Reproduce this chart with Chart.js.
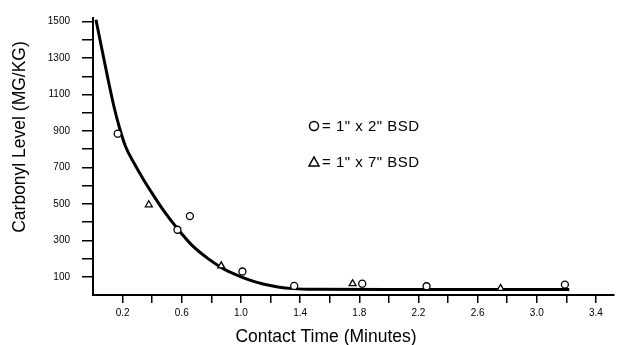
<!DOCTYPE html>
<html>
<head>
<meta charset="utf-8">
<script src="https://cdn.jsdelivr.net/npm/chart.js@4"></script>
<style>
  html, body { margin: 0; padding: 0; background: #fff; }
  #wrap { width: 619px; height: 345px; }
</style>
</head>
<body>
<div id="wrap"><canvas id="chart" width="619" height="345"></canvas></div>
<script>
// fitted curve
const curveX = [0.02, 0.06, 0.10, 0.14, 0.18, 0.22, 0.28, 0.34, 0.41, 0.48, 0.57, 0.67, 0.78, 0.88, 0.97, 1.05, 1.15, 1.25, 1.35, 1.50, 2.00, 3.22];
const curveY = [1510, 1350, 1190, 1040, 915, 815, 720, 635, 545, 460, 365, 272, 198, 145, 110, 84, 60, 44, 35, 31, 30, 30];

// 1" x 2" BSD samples (circles)
const circleX = [0.167, 0.571, 0.655, 1.01, 1.36, 1.82, 2.255, 3.19];
const circleY = [885, 358, 433, 129, 50, 62, 48, 57];

// 1" x 7" BSD samples (triangles)
const triangleX = [0.377, 0.867, 1.755, 2.755];
const triangleY = [495, 160, 62, 36];

const xTicks = [0.2, 0.4, 0.6, 0.8, 1.0, 1.2, 1.4, 1.6, 1.8, 2.0, 2.2, 2.4, 2.6, 2.8, 3.0, 3.2, 3.4];
const xLabels = ['0.2', '0.6', '1.0', '1.4', '1.8', '2.2', '2.6', '3.0', '3.4'];
const yTicks = [100, 200, 300, 400, 500, 600, 700, 800, 900, 1000, 1100, 1200, 1300, 1400, 1500];
const yLabels = ['100', '300', '500', '700', '900', '1100', '1300', '1500'];

const toPoints = (xs, ys) => xs.map((x, i) => ({ x: x, y: ys[i] }));

const fontFamily = '"Liberation Sans", Arial, sans-serif';

// axis titles and the little key, placed like the original figure
const annotatePlugin = {
    id: 'annotate',
    afterDraw(chart) {
        const ctx = chart.ctx;
        ctx.save();
        ctx.strokeStyle = '#000';
        ctx.fillStyle = '#000';
        ctx.lineWidth = 1.5;

        ctx.beginPath();
        ctx.arc(314, 126, 4.5, 0, Math.PI * 2);
        ctx.stroke();

        ctx.beginPath();
        ctx.moveTo(309, 166);
        ctx.lineTo(319, 166);
        ctx.lineTo(314, 157);
        ctx.closePath();
        ctx.stroke();

        ctx.textBaseline = 'middle';
        ctx.font = '15px ' + fontFamily;
        ctx.letterSpacing = '0.5px';
        ctx.fillText('= 1" x 2" BSD', 322, 127);
        ctx.fillText('= 1" x 7" BSD', 322, 163);

        ctx.letterSpacing = '0px';
        ctx.font = '17.5px ' + fontFamily;
        ctx.textAlign = 'center';
        ctx.fillText('Contact Time (Minutes)', 326, 337);

        ctx.translate(20, 137);
        ctx.rotate(-Math.PI / 2);
        ctx.fillText('Carbonyl Level (MG/KG)', 0, 0);
        ctx.restore();
    }
};

const tickFont = { family: fontFamily, size: 10 };

new Chart(document.getElementById('chart'), {
    type: 'scatter',
    data: {
        datasets: [
            {
                label: 'fit',
                data: toPoints(curveX, curveY),
                showLine: true,
                cubicInterpolationMode: 'monotone',
                borderColor: '#000',
                borderWidth: 3,
                pointRadius: 0,
                order: 2
            },
            {
                label: '1" x 2" BSD',
                data: toPoints(circleX, circleY),
                pointStyle: 'circle',
                pointRadius: 3.5,
                backgroundColor: '#fff',
                borderColor: '#000',
                borderWidth: 1.3,
                order: 0
            },
            {
                label: '1" x 7" BSD',
                data: toPoints(triangleX, triangleY),
                pointStyle: 'triangle',
                pointRadius: 4,
                backgroundColor: '#fff',
                borderColor: '#000',
                borderWidth: 1.3,
                order: 1
            }
        ]
    },
    options: {
        responsive: false,
        animation: false,
        layout: { padding: { top: 17, right: 0, bottom: 0, left: 0 } },
        plugins: {
            legend: { display: false },
            tooltip: { enabled: false }
        },
        scales: {
            x: {
                type: 'linear',
                min: 0,
                max: 3.52,
                afterBuildTicks: s => { s.ticks = xTicks.map(v => ({ value: v })); },
                afterFit: s => { s.height = 50; },
                ticks: {
                    color: '#000',
                    font: tickFont,
                    padding: 4,
                    maxRotation: 0,
                    autoSkip: false,
                    callback: v => (xLabels.includes(v.toFixed(1)) ? v.toFixed(1) : '')
                },
                grid: { drawOnChartArea: false, drawTicks: true, tickLength: 8, color: '#000', lineWidth: 1.5 },
                border: { display: true, color: '#000', width: 2 }
            },
            y: {
                type: 'linear',
                min: 0,
                max: 1520,
                afterBuildTicks: s => { s.ticks = yTicks.map(v => ({ value: v })); },
                afterFit: s => { s.width = 93; },
                ticks: {
                    color: '#000',
                    font: tickFont,
                    padding: 12,
                    autoSkip: false,
                    callback: v => (yLabels.includes(String(v)) ? String(v) : '')
                },
                grid: { drawOnChartArea: false, drawTicks: true, tickLength: 11, color: '#000', lineWidth: 1.5 },
                border: { display: true, color: '#000', width: 2 }
            }
        }
    },
    plugins: [annotatePlugin]
});
</script>
</body>
</html>
